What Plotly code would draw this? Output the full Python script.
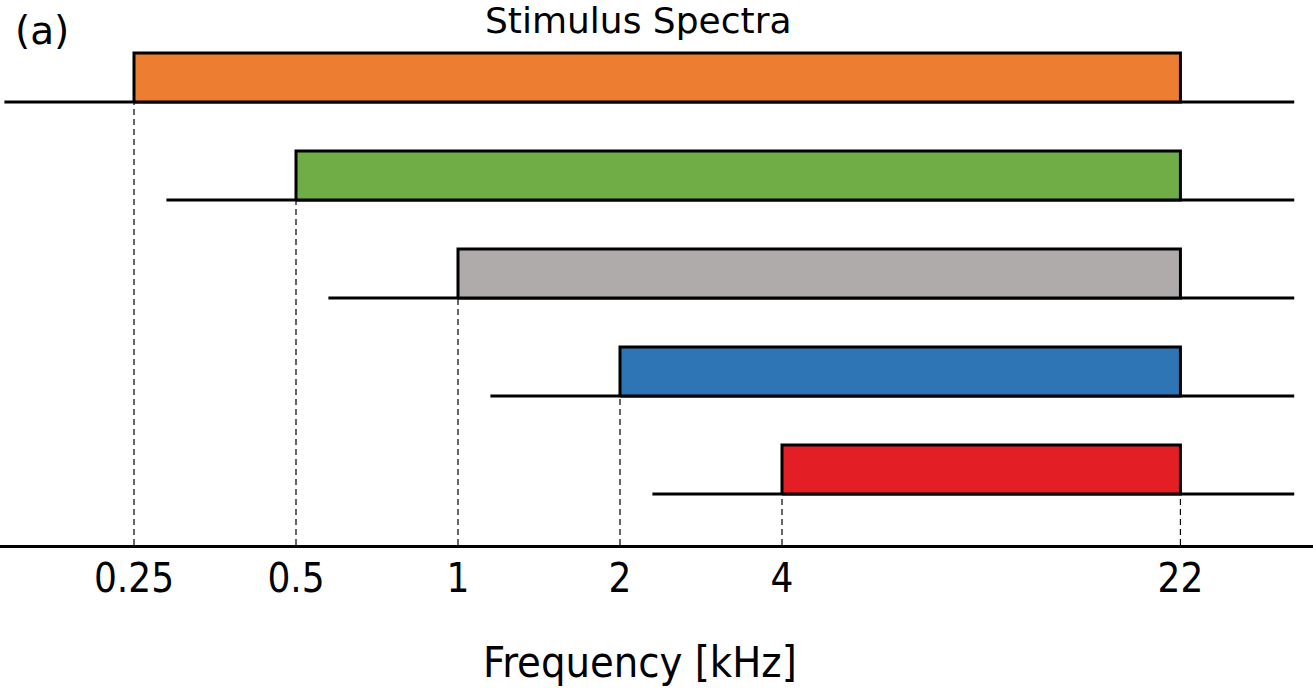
import numpy as np
import plotly.graph_objects as go

# Stimulus bands (kHz)
band_low_khz = [0.25, 0.5, 1, 2, 4]
band_high_khz = [22, 22, 22, 22, 22]
band_colors = ["#ED7D31", "#70AD47", "#AFABAB", "#2E75B6", "#E31E24"]
tick_vals = [0.25, 0.5, 1, 2, 4, 22]
tick_text = ["0.25", "0.5", "1", "2", "4", "22"]

W, H = 1313, 696
axis_px = 545          # pixel row of the frequency axis
px_per_row = 98.0
row_offset = 0.52      # lowest baseline above the axis, in row units
bar_h = 0.5            # bar height, in row units
lead = 2 ** 0.8        # baseline extends this factor below each band start
tail_khz = 35.8        # baselines run out to here

# log10 x range so that 0.25 kHz sits at x=134 and one octave spans 162 px
px_per_dec = 162 / np.log10(2)
x_left = np.log10(0.25) - 134 / px_per_dec
x_right = np.log10(0.25) + (W - 134) / px_per_dec

n = len(band_low_khz)
bases = [row_offset + (n - 1 - i) for i in range(n)]

fig = go.Figure()
lw = 3
dash = dict(color="black", width=1.2, dash="6px,4px")

for i in range(n):
    lo, hi, b = band_low_khz[i], band_high_khz[i], bases[i]
    # dashed guide from baseline down to axis
    fig.add_trace(go.Scatter(x=[lo, lo], y=[0, b], mode="lines", line=dash,
                             hoverinfo="skip", showlegend=False))
    # baseline
    fig.add_trace(go.Scatter(x=[lo / lead, tail_khz], y=[b, b], mode="lines",
                             line=dict(color="black", width=lw),
                             hoverinfo="skip", showlegend=False))
    # band rectangle
    fig.add_trace(go.Scatter(x=[lo, lo, hi, hi, lo],
                             y=[b, b + bar_h, b + bar_h, b, b],
                             mode="lines", fill="toself", fillcolor=band_colors[i],
                             line=dict(color="black", width=lw),
                             hoverinfo="skip", showlegend=False))

# dashed guide at the upper band edge, from the lowest row down
hi_edge = band_high_khz[-1]
fig.add_trace(go.Scatter(x=[hi_edge, hi_edge], y=[0, bases[-1]], mode="lines",
                         line=dash, hoverinfo="skip", showlegend=False))

y_top = axis_px / px_per_row
label_font = "Liberation Sans Narrow, DejaVu Sans Condensed, Arial Narrow, sans-serif"

fig.update_layout(
    width=W, height=H,
    margin=dict(l=0, r=0, t=0, b=0),
    paper_bgcolor="white", plot_bgcolor="white",
    xaxis=dict(type="log", range=[x_left, x_right],
               tickvals=tick_vals, ticktext=tick_text,
               showgrid=False, zeroline=False,
               showline=True, linecolor="black", linewidth=lw,
               ticks="", ticklen=0, ticklabelstandoff=-4,
               tickfont=dict(family=label_font, size=40, color="black")),
    yaxis=dict(range=[0, y_top], domain=[(H - axis_px) / H, 1],
               visible=False, showgrid=False, zeroline=False),
    annotations=[
        dict(text="Stimulus Spectra", x=638, y=H - 21, xref="paper", yref="paper",
             showarrow=False, font=dict(family="DejaVu Sans, Verdana", size=36, color="black"),
             xanchor="center", yanchor="middle"),
        dict(text="(a)", x=42, y=H - 30, xref="paper", yref="paper",
             showarrow=False, font=dict(family="DejaVu Sans, Verdana", size=39, color="black"),
             xanchor="center", yanchor="middle"),
        dict(text="Frequency [kHz]", x=640, y=H - 662, xref="paper", yref="paper",
             showarrow=False, font=dict(family=label_font, size=43, color="black"),
             xanchor="center", yanchor="middle"),
    ],
)

# annotation positions above are given in pixels; convert to paper fractions
for a in fig.layout.annotations:
    a.x = a.x / W
    a.y = a.y / H

fig.write_html("out.html")
